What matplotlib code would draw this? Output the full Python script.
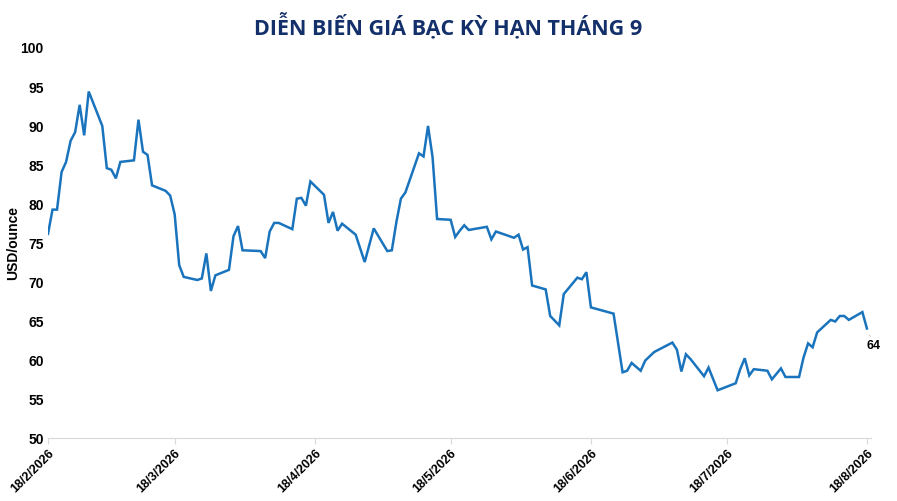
"""Silver September futures price chart (Feb - Aug 2026)."""
import matplotlib
matplotlib.use("Agg")
import matplotlib.pyplot as plt
import pandas as pd

START = "2026-02-18"

# days after 18/2/2026 and price in USD/ounce
day = [0, 1, 2, 3, 4, 5, 6, 7, 8, 9,
       12, 13, 14, 15, 16, 19, 20, 21, 22, 23,
       26, 27, 28, 29, 30, 33, 34, 35, 36, 37,
       40, 41, 42, 43, 47, 48, 49, 50, 51, 54,
       55, 56, 57, 58, 61, 62, 63, 64, 65, 68,
       70, 72, 75, 76, 77, 78, 79, 82, 83, 84,
       85, 86, 89, 90, 91, 92, 93, 97, 98, 99,
       100, 103, 104, 105, 106, 107, 110, 111, 113, 114,
       117, 118, 119, 120, 125, 127, 128, 129, 131, 132,
       134, 138, 139, 140, 141, 142, 145, 146, 148, 152,
       153, 154, 155, 156, 159, 160, 162, 163, 166, 167,
       168, 169, 170, 173, 174, 175, 176, 177, 180, 181]
price = [76.1, 79.2, 79.2, 84.0, 85.3, 88.0, 89.1, 92.6, 88.7, 94.3,
         89.9, 84.5, 84.3, 83.2, 85.3, 85.5, 90.7, 86.6, 86.2, 82.3,
         81.6, 81.0, 78.6, 72.1, 70.6, 70.2, 70.4, 73.6, 68.8, 70.8,
         71.5, 75.8, 77.1, 74.0, 73.9, 73.0, 76.4, 77.5, 77.5, 76.7,
         80.6, 80.7, 79.7, 82.8, 81.1, 77.5, 78.9, 76.5, 77.4, 76.0,
         72.5, 76.8, 73.9, 74.0, 77.6, 80.6, 81.4, 86.4, 86.0, 89.9,
         85.9, 78.0, 77.9, 75.7, 76.5, 77.2, 76.6, 77.0, 75.4, 76.4,
         76.2, 75.6, 76.0, 74.1, 74.4, 69.5, 69.0, 65.6, 64.4, 68.4,
         70.5, 70.3, 71.2, 66.7, 65.9, 58.4, 58.6, 59.6, 58.6, 59.9,
         61.0, 62.2, 61.3, 58.5, 60.7, 60.1, 57.9, 59.0, 56.1, 57.0,
         58.8, 60.2, 58.0, 58.8, 58.6, 57.5, 58.9, 57.8, 57.8, 60.3,
         62.1, 61.6, 63.5, 65.1, 64.9, 65.6, 65.6, 65.1, 66.1, 64.0]

tick_dates = ["2026-02-18", "2026-03-18", "2026-04-18", "2026-05-18",
              "2026-06-18", "2026-07-18", "2026-08-18"]
TITLE = "DIỄN BIẾN GIÁ BẠC KỲ HẠN THÁNG 9"

dates = pd.Timestamp(START) + pd.to_timedelta(day, unit="D")
ticks = pd.to_datetime(tick_dates)

plt.rcParams["font.family"] = ["Liberation Sans", "DejaVu Sans"]

fig = plt.figure(figsize=(8.97, 5.02), dpi=100)
ax = fig.add_axes([0.0535, 0.1255, 0.918, 0.779])

ax.plot(dates, price, color="#1a74bd", lw=1.8, solid_joinstyle="miter")

ax.set_ylim(50, 100)
ax.set_yticks(range(50, 101, 5))
ax.set_xlim(pd.Timestamp(START), pd.Timestamp("2026-08-19"))
ax.set_xticks(ticks)
ax.set_xticklabels([f"{t.day}/{t.month}/{t.year}" for t in ticks],
                   rotation=45, ha="right", rotation_mode="anchor")

for s in ["top", "right", "left"]:
    ax.spines[s].set_visible(False)
ax.spines["bottom"].set_color("#d9d9d9")
ax.tick_params(axis="y", length=0, pad=3, labelsize=10)
ax.tick_params(axis="x", length=4, color="#d9d9d9", pad=2, labelsize=9)
for lab in ax.get_xticklabels() + ax.get_yticklabels():
    lab.set_fontweight("bold")

ax.set_ylabel("USD/ounce", fontsize=10, fontweight="bold", labelpad=0)

# end label
ax.annotate(f"{price[-1]:.0f}", xy=(dates[-1], price[-1]),
            xytext=(5, -12), textcoords="offset points",
            fontsize=9, fontweight="bold", ha="center", va="center",
            arrowprops=dict(arrowstyle="-", color="#bfbfbf", lw=0.6,
                            shrinkA=0, shrinkB=5))

fig.text(0.5, 0.948, TITLE, ha="center", va="center", fontsize=15.5,
         fontweight="bold", color="#14306b", family=["Open Sans", "DejaVu Sans"])

fig.savefig("out.png", dpi=100)
plt.close(fig)
